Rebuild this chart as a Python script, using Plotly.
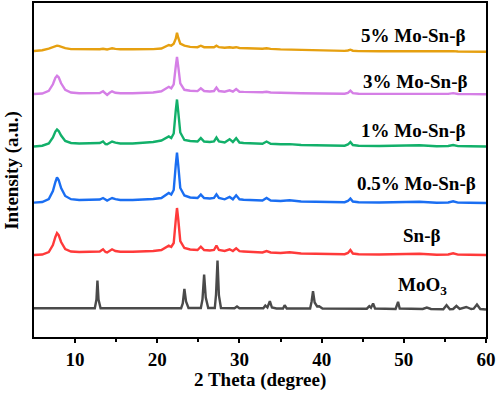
import plotly.graph_objects as go

# ---------------- data ----------------
two_theta_beta = [5.0, 6.0, 6.8, 7.3, 7.6, 7.8, 8.0, 8.3, 8.8, 9.5, 10.5, 12.0, 13.0, 13.4, 13.7,
                  13.9, 14.2, 14.5, 14.9, 15.5, 17.0, 18.5, 19.5, 20.5, 21.1, 21.4, 21.7, 22.0,
                  22.25, 22.4, 22.55, 22.8, 23.3, 24.0, 24.9, 25.3, 25.7, 26.4, 26.9, 27.2, 27.5,
                  28.2, 28.8, 29.2, 29.6, 30.0, 30.5, 31.5, 32.8, 33.3, 33.8, 35.0, 36.1, 37.5,
                  40.0, 42.8, 43.2, 43.5, 43.8, 44.5, 47.0, 50.0, 51.9, 54.0, 55.4, 56.0, 56.6,
                  58.0, 60.0]

int_sn_beta = [0, 0.5, 3, 10, 18, 22, 20, 13, 6, 3.5, 3, 3, 3.5, 5.7, 3,
               2.5, 4, 5.7, 4, 3.3, 3.3, 3.5, 4, 5, 7.5, 9.3, 8, 12,
               35, 47, 36, 14, 7, 5.5, 5, 8.3, 5, 4.5, 5, 9.3, 5,
               4, 5.7, 4, 6.7, 3.8, 3.5, 2.8, 2.5, 4, 2.5, 2, 2.8, 1.5,
               1, 0.8, 2, 5, 1.5, 0.8, 0.5, 0.5, 1.2, 0.3, 0.5, 1.7, 0.4,
               0.2, 0]

int_mo05 = [0.4, 1, 4, 12, 21, 25.5, 23, 15, 7, 3.8, 3, 3, 3.5, 5, 3,
            2.5, 3.8, 5, 3.8, 3, 3, 3.3, 4, 5, 8, 10, 8.5, 13,
            38, 50.5, 38, 15, 7.5, 5.5, 5, 8.4, 5, 4.5, 5, 8.7, 5,
            3.7, 6, 3.7, 7.7, 3.7, 3.3, 2.8, 2.5, 5, 2.5, 2, 2.7, 1.5,
            1, 0.8, 2, 4.4, 1.5, 0.8, 0.5, 0.5, 1.2, 0.3, 0.5, 1.7, 0.4,
            0.2, 0]

int_mo1 = [0, 0.8, 3, 9, 15, 17, 15.5, 11, 5.5, 3.5, 3, 3, 3.5, 5, 2.5,
           2.3, 3.8, 5, 3.8, 3, 3, 3.5, 4.5, 6, 8.5, 10, 8.5, 13,
           36, 47, 35, 14, 6.5, 5.5, 5, 8.4, 5, 4.5, 5, 9, 5,
           4, 7.3, 4.5, 8.3, 4, 3.5, 3, 2.8, 5, 2.8, 2.2, 2.4, 1.5,
           1, 0.8, 2, 4.4, 1.5, 0.8, 0.5, 0.5, 1.2, 0.3, 0.5, 1.5, 0.4,
           0.2, 0]

int_mo3 = [0.3, 0.8, 3.5, 10, 16.5, 18.5, 17, 11, 4.5, 1.8, 1, 1, 1.3, 3, 0.5,
           -0.7, 1.5, 3, 1.5, 1, 1, 1.2, 1.8, 3, 5.5, 7.5, 6, 10,
           28, 37.5, 28, 11, 4.5, 3.5, 3.2, 6, 3.3, 2.8, 3.3, 6.7, 3.3,
           2.6, 4, 2.6, 5.3, 2.6, 2.4, 2, 2, 2.6, 1.8, 1.5, 1, 1,
           0.8, 0.6, 1.5, 3.6, 1.2, 0.6, 0.4, 0.4, 1, 0.3, 0.4, 1.2, 0.3,
           0.2, 0]

int_mo5 = [0.7, 1.5, 3, 4.5, 5.5, 6, 5.8, 5, 3.5, 2.6, 2.4, 2.4, 2.4, 3, 2.4,
           2.2, 2.8, 3.4, 2.8, 2.4, 2.4, 2.4, 2.6, 3.2, 5, 6.7, 6, 8,
           13, 19, 14, 8, 6, 4.8, 4.5, 6, 4.5, 4.3, 4.5, 6, 4.5,
           4, 4.5, 4, 4.5, 3.7, 3.5, 3.2, 3, 3.4, 2.8, 2.3, 2, 1.5,
           1, 0.8, 1.2, 2, 1, 0.6, 0.4, 0.4, 1, 0.3, 0.3, 0.6, 0.2,
           0.1, 0]

two_theta_moo3 = [5.0, 10.0, 12.4, 12.6, 12.72, 12.85, 13.1, 20.0, 22.9, 23.1, 23.3, 23.5, 23.8,
                  25.3, 25.5, 25.7, 25.9, 26.2, 27.0, 27.15, 27.33, 27.5, 27.75, 29.4, 29.7,
                  30.0, 32.9, 33.15, 33.4, 33.7, 33.95, 34.5, 35.3, 35.5, 35.75, 38.6, 38.78,
                  38.95, 39.15, 39.45, 39.7, 40.1, 45.5, 45.8, 46.0, 46.26, 46.5, 49.0, 49.15,
                  49.3, 49.5, 52.3, 52.8, 53.3, 54.8, 55.2, 55.6, 56.0, 56.4, 56.8, 57.6, 58.2,
                  58.5, 58.9, 59.3, 60.0]

int_moo3 = [1.2, 1.2, 1.2, 10, 29, 10, 1.2, 1.2, 1.3, 6, 20.7, 8, 1.5,
            1.5, 10, 35, 12, 1.5, 1.5, 15, 49, 14, 1.5, 1.3, 3,
            1.2, 1.2, 4, 2, 8.3, 2, 1, 1, 4.3, 1, 1, 8,
            18.3, 7, 3, 3.2, 1, 0.8, 3.3, 1.8, 6, 1, 0.5, 4,
            7.6, 1, 0.5, 2, 0.5, 0.3, 4.3, 0.3, 0.5, 3.5, 0.5, 2.5, 0.5,
            0.8, 5, 0.5, 0]

series_names = ["MoO<sub>3</sub>", "Sn-β", "0.5% Mo-Sn-β", "1% Mo-Sn-β", "3% Mo-Sn-β", "5% Mo-Sn-β"]
series_x = [two_theta_moo3, two_theta_beta, two_theta_beta, two_theta_beta, two_theta_beta, two_theta_beta]
series_y = [int_moo3, int_sn_beta, int_mo05, int_mo1, int_mo3, int_mo5]
offsets = [27.5, 82, 134, 190.5, 242.7, 285.3]
colors = ["#4a4a4a", "#ff3a3a", "#1a6ef2", "#12b06a", "#d57fe6", "#e6a010"]
label_pos = [(52.3, 51), (52.2, 102), (51.6, 154), (51.1, 207), (51.3, 256), (51.1, 302)]

# ---------------- figure ----------------
FONT = "Liberation Serif, Times New Roman, serif"
fig = go.Figure()
for xs, ys, off, col in zip(series_x, series_y, offsets, colors):
    fig.add_trace(go.Scatter(x=xs, y=[v + off for v in ys], mode="lines",
                             line=dict(color=col, width=2.4), showlegend=False, hoverinfo="skip"))

for name, (lx, ly) in zip(series_names, label_pos):
    fig.add_annotation(x=lx, y=ly, xref="x", yref="y", text=name, showarrow=False,
                       font=dict(family=FONT, size=19, color="black", weight="bold"),
                       xanchor="center", yanchor="middle")

fig.add_annotation(x=0.5, y=-0.129, xref="paper", yref="paper", text="2 Theta (degree)",
                   showarrow=False, font=dict(family=FONT, size=19, color="black", weight="bold"),
                   xanchor="center", yanchor="middle")
fig.add_annotation(x=-0.049, y=0.5, xref="paper", yref="paper", text="Intensity (a.u.)",
                   showarrow=False, textangle=-90,
                   font=dict(family=FONT, size=19, color="black", weight="bold"),
                   xanchor="center", yanchor="middle")

fig.update_layout(
    width=498, height=393,
    margin=dict(l=34, r=12, t=3, b=56),
    paper_bgcolor="white", plot_bgcolor="white",
    xaxis=dict(range=[5, 60], tickvals=[10, 20, 30, 40, 50, 60], ticks="outside",
               ticklen=4, tickwidth=2, tickcolor="black", automargin=False,
               minor=dict(tickvals=[15, 25, 35, 45, 55], ticks="outside", ticklen=2.5,
                          tickwidth=1.5, tickcolor="black"),
               showline=True, linewidth=2, linecolor="black", mirror=True,
               showgrid=False, zeroline=False,
               tickfont=dict(family=FONT, size=19, color="black", weight="bold")),
    yaxis=dict(range=[0, 334], showticklabels=False, ticks="", showgrid=False, zeroline=False,
               automargin=False,
               showline=True, linewidth=2, linecolor="black", mirror=True),
)

fig.write_html("out.html", config={"displayModeBar": False},
               post_script="document.body.style.margin='0';document.body.style.padding='0';")
